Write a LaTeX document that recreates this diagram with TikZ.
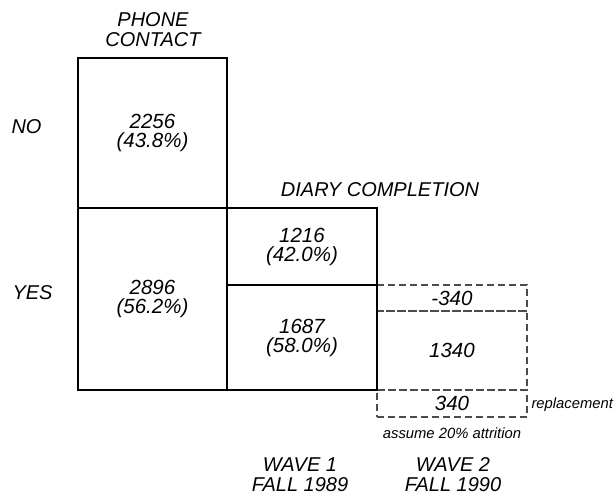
\documentclass[tikz,border=0pt]{standalone}
\usepackage{fontspec}
\setmainfont{Liberation Sans}
\usetikzlibrary{positioning}

\begin{document}
\begin{tikzpicture}[x=1pt, y=-1pt,
        cell/.style={draw, line width=1.7pt, minimum width=149.5pt, inner sep=0pt, outer sep=0pt, align=center, font=\itshape\fontsize{20.5}{19}\selectfont},
        ghost/.style={draw=black!70, dash pattern=on 7pt off 4pt, line width=1.3pt, minimum width=150pt, inner sep=0pt, outer sep=0pt, font=\itshape\fontsize{20.5}{19}\selectfont},
        lbl/.style={align=center, font=\itshape\fontsize{20}{20}\selectfont},
        note/.style={font=\itshape\fontsize{14.8}{16}\selectfont}
    ]
        \useasboundingbox (0,0) rectangle (616,496);

        % wave 2 projection (dashed, drawn first)
        \node[ghost, minimum height=26pt] (drop) at (452, 298) {-340};
        \node[ghost, minimum height=79pt, below=0pt of drop] (keep) {1340};
        \node[ghost, minimum height=27pt, below=0pt of keep] (repl) {340};

        % phone contact column
        \node[cell, minimum height=150pt] (no) at (152.5, 133) {2256\\(43.8\%)};
        \node[cell, minimum height=182pt, below=0pt of no] (yes) {2896\\(56.2\%)};

        % diary completion column
        \node[cell, minimum height=77pt, anchor=north west] (done) at (yes.north east) {1216\\(42.0\%)};
        \node[cell, minimum height=105pt, below=0pt of done] (wave1) {1687\\(58.0\%)};

        % labels
        \node[lbl] (phone) at (153, 30) {PHONE\\CONTACT};
        \node[lbl, anchor=west] (nolbl) at (8, 127) {NO};
        \node[lbl, anchor=west] (yeslbl) at (9, 293) {YES};
        \node[lbl] (diary) at (380, 190) {DIARY COMPLETION};
        \node[note, anchor=west] (repllbl) at (528, 405) {replacement};
        \node[note] (attr) at (452, 433) {assume 20\% attrition};
        \node[lbl] (w1) at (300, 475) {WAVE 1\\FALL 1989};
        \node[lbl] (w2) at (453, 475) {WAVE 2\\FALL 1990};
    \end{tikzpicture}
\end{document}
